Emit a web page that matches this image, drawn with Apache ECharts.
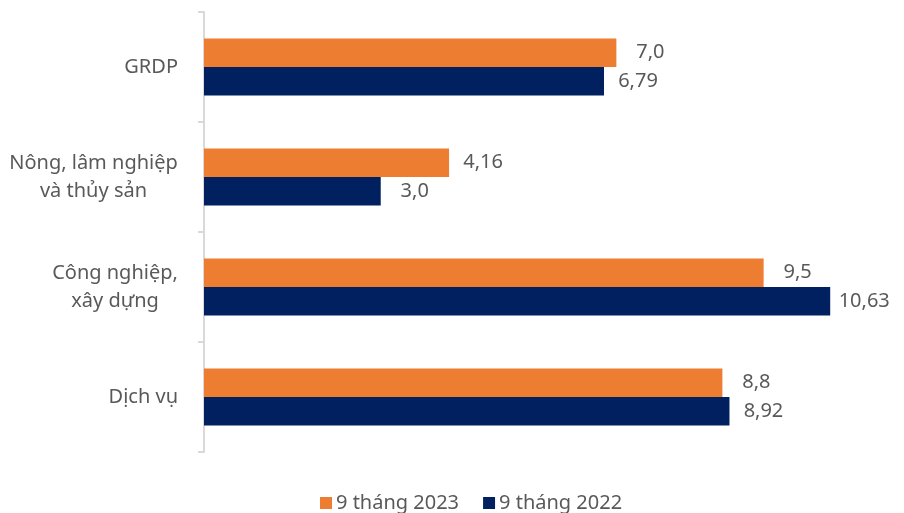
<!DOCTYPE html>
<html><head><meta charset="utf-8">
<script src="https://cdn.jsdelivr.net/npm/echarts@6/dist/echarts.min.js"></script>
<style>html,body{margin:0;padding:0;background:#fff}#c{width:904px;height:513px}</style>
</head><body><div id="c"></div>
<script>
const categories = ['GRDP', 'Nông, lâm nghiệp\nvà thủy sản', 'Công nghiệp,\nxây dựng', 'Dịch vụ'];
const seriesNames = ['9 tháng 2023', '9 tháng 2022'];
const values2023 = [7.0, 4.16, 9.5, 8.8];
const values2022 = [6.79, 3.0, 10.63, 8.92];
const labels2023 = ['7,0', '4,16', '9,5', '8,8'];
const labels2022 = ['6,79', '3,0', '10,63', '8,92'];

const font = '"Noto Sans", "Liberation Sans", sans-serif';
const FS = 20;
const ctx = document.createElement('canvas').getContext('2d');
ctx.font = FS + 'px ' + font;
function blockWidth(v) {
  return Math.ceil(Math.max.apply(null, v.split('\n').map(l => ctx.measureText(l).width)));
}
const rich = {};
categories.forEach((c, i) => {
  rich['k' + i] = {width: blockWidth(c), align: 'center', color: '#595959', fontSize: FS, fontFamily: font, lineHeight: 28};
});

const chart = echarts.init(document.getElementById('c'), null, {renderer: 'canvas'});
function lbl(arr) {
  return {
    show: true, position: 'right', distance: 34, align: 'center',
    color: '#595959', fontSize: FS, fontFamily: font,
    formatter: p => arr[p.dataIndex]
  };
}
chart.setOption({
  animation: false,
  grid: {left: 204, right: 52, top: 12, bottom: 61, containLabel: false},
  legend: {
    top: 488, left: 315, itemWidth: 12, itemHeight: 12, itemGap: 24,
    icon: 'rect',
    textStyle: {color: '#595959', fontSize: FS, fontFamily: font, padding: [0, 0, 0, -1]},
    data: seriesNames
  },
  xAxis: {type: 'value', min: 0, max: 11, show: false, splitLine: {show: false}},
  yAxis: {
    type: 'category', inverse: true, data: categories,
    axisLine: {show: true, lineStyle: {color: '#D9D9D9', width: 2}},
    axisTick: {show: true, length: 6, lineStyle: {color: '#D9D9D9', width: 2}},
    axisLabel: {
      margin: 26, color: '#595959', fontSize: FS, fontFamily: font, lineHeight: 28,
      formatter: function (v) {
        const i = categories.indexOf(v);
        const lines = v.split('\n');
        if (lines.length === 1) return v;
        return lines.map(l => '{k' + i + '|' + l + '}').join('\n');
      },
      rich: rich
    }
  },
  series: [
    {name: seriesNames[0], type: 'bar', data: values2023, itemStyle: {color: '#ED7D31'},
     barGap: '0%', barCategoryGap: '48%', label: lbl(labels2023)},
    {name: seriesNames[1], type: 'bar', data: values2022, itemStyle: {color: '#002060'},
     barGap: '0%', barCategoryGap: '48%', label: lbl(labels2022)}
  ]
});
</script></body></html>
